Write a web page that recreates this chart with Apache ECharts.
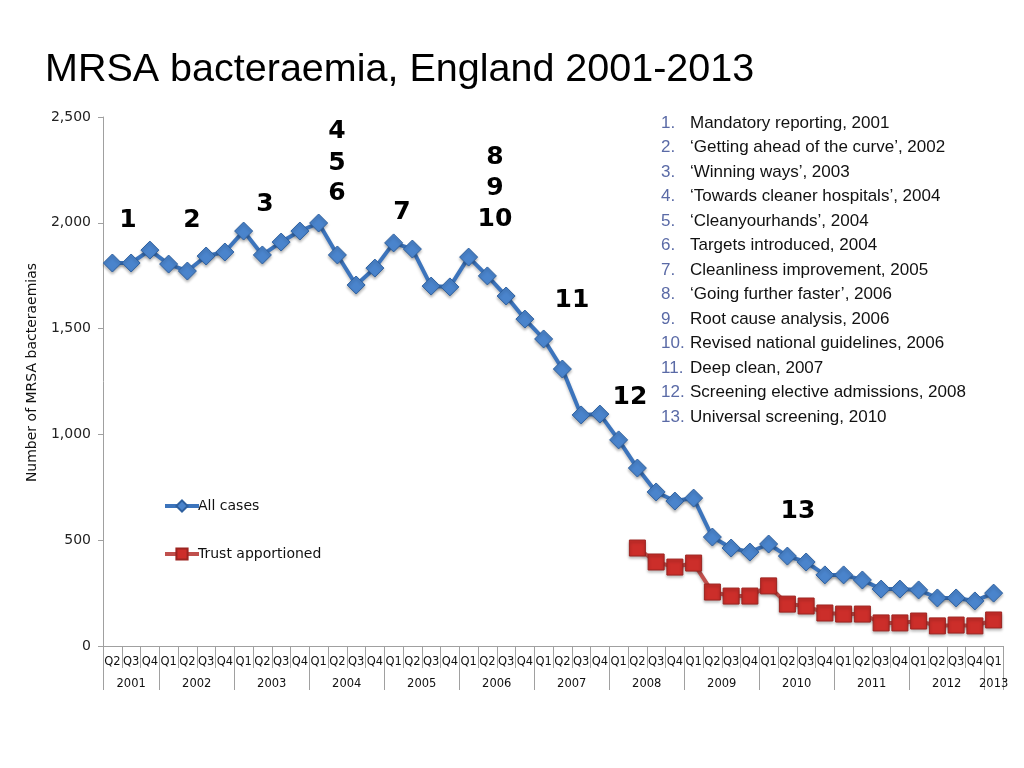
<!DOCTYPE html>
<html>
<head>
<meta charset="utf-8">
<script src="https://cdn.jsdelivr.net/npm/echarts@6/dist/echarts.min.js"></script>
<style>html,body{margin:0;padding:0;background:#fff}#c{width:1024px;height:768px}</style>
</head>
<body>
<div id="c"></div>
<script>
// ---- Data ----
var quarters = ['Q2','Q3','Q4',
  'Q1','Q2','Q3','Q4','Q1','Q2','Q3','Q4','Q1','Q2','Q3','Q4','Q1','Q2','Q3','Q4',
  'Q1','Q2','Q3','Q4','Q1','Q2','Q3','Q4','Q1','Q2','Q3','Q4','Q1','Q2','Q3','Q4',
  'Q1','Q2','Q3','Q4','Q1','Q2','Q3','Q4','Q1','Q2','Q3','Q4','Q1'];
var years = ['2001','2002','2003','2004','2005','2006','2007','2008','2009','2010','2011','2012','2013'];
var quartersPerYear = [3,4,4,4,4,4,4,4,4,4,4,4,1];
var allCases = [1810,1810,1871,1805,1772,1843,1862,1961,1848,1909,1961,1999,
  1848,1706,1786,1905,1876,1701,1697,1838,1749,1654,1545,1451,1309,1092,1096,
  974,841,728,685,699,515,463,444,482,425,397,336,336,312,269,269,265,227,227,213,250];
var trustApportioned = [null,null,null,null,null,null,null,null,null,null,null,null,
  null,null,null,null,null,null,null,null,null,null,null,null,null,null,null,null,
  463,397,373,392,255,236,236,284,198,189,156,151,151,109,109,118,95,99,95,123];
var yTicks = [0,500,1000,1500,2000,2500];
var interventions = ['Mandatory reporting, 2001','\u2018Getting ahead of the curve\u2019, 2002',
  '\u2018Winning ways\u2019, 2003','\u2018Towards cleaner hospitals\u2019, 2004','\u2018Cleanyourhands\u2019, 2004',
  'Targets introduced, 2004','Cleanliness improvement, 2005','\u2018Going further faster\u2019, 2006',
  'Root cause analysis, 2006','Revised national guidelines, 2006','Deep clean, 2007',
  'Screening elective admissions, 2008','Universal screening, 2010'];

// year axis built from half-quarter slots
var halfSlots = [], boundaries = {}, centers = {}, pos = 0;
for (var i = 0; i <= quarters.length * 2; i++) halfSlots.push(String(i));
quartersPerYear.forEach(function (n, k) {
  boundaries[pos * 2] = true;
  centers[pos * 2 + n] = years[k];
  pos += n;
});
boundaries[pos * 2] = true;

var chart = echarts.init(document.getElementById('c'));
var graphics = [];
// annotation numbers
var ann = [['1',128,220],['2',192,220],['3',265,204],['4',337,131],['5',337,163],['6',337,193],
  ['7',402,212],['8',495,157],['9',495,188],['10',495,219],['11',572,300],['12',630,397],['13',798,511]];
ann.forEach(function (a) {
  graphics.push({type:'text', x:a[1], y:a[2], style:{text:a[0], x:0, y:0, textAlign:'center', textVerticalAlign:'middle',
    font:'bold 25px "DejaVu Sans"', fill:'#000'}});
});
interventions.forEach(function (t, k) {
  var y = 123 + k * 24.5;
  graphics.push({type:'text', x:661, y:y, style:{text:(k+1)+'.', textVerticalAlign:'middle', font:'17px "Liberation Sans"', fill:'#5a6aa6'}});
  graphics.push({type:'text', x:690, y:y, style:{text:t, textVerticalAlign:'middle', font:'17px "Liberation Sans"', fill:'#111'}});
});

chart.setOption({
  animation: false,
  title: {text:'MRSA bacteraemia, England 2001-2013', left:40, top:45,
    textStyle:{fontFamily:'Liberation Sans', fontSize:39.5, fontWeight:'normal', color:'#000'}},
  grid: {left:103, right:21, top:117, bottom:122},
  legend: {orient:'vertical', left:158, top:494, itemGap:34, itemWidth:34, itemHeight:14,
    lineStyle:{width:4},
    textStyle:{fontFamily:'DejaVu Sans', fontSize:14, color:'#111', padding:[0,0,0,-6]},
    data:['All cases','Trust apportioned']},
  xAxis: [{
    type:'category', data:quarters, boundaryGap:true,
    axisLine:{show:true, lineStyle:{color:'#a0a0a0'}},
    axisTick:{show:false},
    axisLabel:{interval:0, margin:10, fontFamily:'DejaVu Sans', fontSize:11.5, color:'#111'}
  },{
    type:'category', data:halfSlots, boundaryGap:false, position:'bottom',
    axisLine:{show:false},
    axisTick:{show:true, length:44, interval:function(idx){return !!boundaries[idx];}, lineStyle:{color:'#a0a0a0'}},
    axisLabel:{margin:32, interval:function(idx){return !!centers[idx];},
      formatter:function(v, idx){return centers[idx] || '';},
      fontFamily:'DejaVu Sans', fontSize:11.5, color:'#111'}
  },{
    type:'category', data:halfSlots, boundaryGap:false, position:'bottom',
    axisLine:{show:false}, axisLabel:{show:false},
    axisTick:{show:true, length:22, interval:function(idx){return idx % 2 === 0;}, lineStyle:{color:'#a0a0a0'}}
  }],
  yAxis: {
    type:'value', min:yTicks[0], max:yTicks[yTicks.length-1], interval:500,
    name:'Number of MRSA bacteraemias', nameLocation:'middle', nameGap:64, nameRotate:90,
    nameTextStyle:{fontFamily:'DejaVu Sans', fontSize:14, color:'#111', padding:[0,0,0,18]},
    axisLine:{show:true, lineStyle:{color:'#a0a0a0'}},
    axisTick:{show:true, length:5, lineStyle:{color:'#a0a0a0'}},
    splitLine:{show:false},
    axisLabel:{margin:12, fontFamily:'DejaVu Sans', fontSize:14, color:'#222',
      formatter:function(v){return v.toLocaleString('en-US');}}
  },
  series: [{
    name:'All cases', type:'line', data:allCases, xAxisIndex:0,
    symbol:'diamond', symbolSize:[18,18],
    lineStyle:{width:4, color:'#3c74bc', shadowColor:'rgba(0,0,0,0.25)', shadowBlur:3, shadowOffsetY:2},
    itemStyle:{color:'#4a84cc', borderColor:'#2e609f', borderWidth:1, shadowColor:'rgba(0,0,0,0.3)', shadowBlur:3, shadowOffsetY:2}
  },{
    name:'Trust apportioned', type:'line', data:trustApportioned, xAxisIndex:0,
    symbol:'rect', symbolSize:[16,16],
    lineStyle:{width:4, color:'#c0504d', shadowColor:'rgba(0,0,0,0.25)', shadowBlur:3, shadowOffsetY:2},
    itemStyle:{color:'#cc2e2a', borderColor:'#9c2420', borderWidth:1, shadowColor:'rgba(0,0,0,0.3)', shadowBlur:3, shadowOffsetY:2}
  }],
  graphic: graphics
});
</script>
</body>
</html>
